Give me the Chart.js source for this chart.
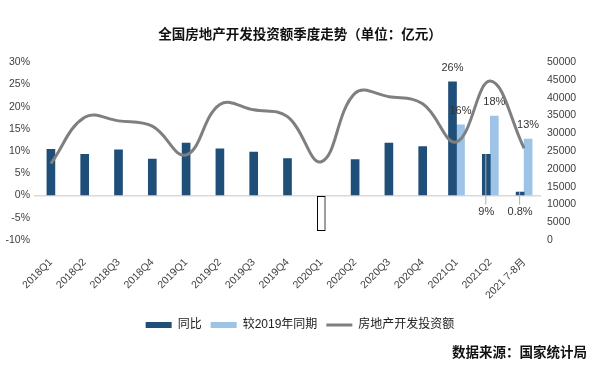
<!DOCTYPE html>
<html>
<head>
<meta charset="utf-8">
<script src="https://cdn.jsdelivr.net/npm/chart.js@4/dist/chart.umd.min.js"></script>
<style>
  html, body { margin: 0; padding: 0; background: #fff; }
  #wrap { width: 600px; height: 373px; }
</style>
</head>
<body>
<div id="wrap"><canvas id="chart"></canvas></div>
<script>
// 全国房地产开发投资额季度走势
const categories = ['2018Q1', '2018Q2', '2018Q3', '2018Q4', '2019Q1', '2019Q2', '2019Q3', '2019Q4',
    '2020Q1', '2020Q2', '2020Q3', '2020Q4', '2021Q1', '2021Q2', '2021 7-8月'];
const yoy = [10.4, 9.3, 10.3, 8.2, 11.8, 10.5, 9.8, 8.3, -7.9, 8.1, 11.8, 11.0, 25.6, 9.3, 0.8];
const vs2019 = [null, null, null, null, null, null, null, null, null, null, null, null, 15.9, 17.9, 12.7];
const invest = [21500, 34500, 33500, 32000, 23900, 38100, 36600, 34700, 22000, 41300, 40300, 38300, 27600, 44700, 25800];
const yoyLabels = [null, null, null, null, null, null, null, null, null, null, null, null, '26%', '9%', '0.8%'];
const vs2019Labels = [null, null, null, null, null, null, null, null, null, null, null, null, '16%', '18%', '13%'];
const pctTicks = [-10, -5, 0, 5, 10, 15, 20, 25, 30];

const FONT = '"Liberation Sans", "Noto Sans CJK SC", sans-serif';
const DARK = '#1f4e79';
const LIGHT = '#9dc3e6';

const barColors = yoy.map(v => v < 0 ? '#ffffff' : DARK);
const barBorders = yoy.map(v => v < 0 ? '#000000' : DARK);
const barBorderW = yoy.map(v => v < 0 ? 1 : 0);

// 柱子上方/下方的数值标签
const barLabels = {
    id: 'barLabels',
    afterDatasetsDraw(chart) {
        const ctx = chart.ctx;
        const zeroY = chart.scales.y.getPixelForValue(0);
        ctx.save();
        ctx.font = '11px ' + FONT;
        ctx.fillStyle = '#333';
        ctx.textAlign = 'center';
        ctx.textBaseline = 'middle';
        [yoyLabels, vs2019Labels].forEach((labels, di) => {
            const meta = chart.getDatasetMeta(di);
            labels.forEach((txt, i) => {
                if (!txt) return;
                const bar = meta.data[i];
                if (di === 0 && i > 12) {
                    ctx.strokeStyle = '#b0b0b0';
                    ctx.lineWidth = 1;
                    ctx.beginPath();
                    ctx.moveTo(bar.x - 0.5, bar.y);
                    ctx.lineTo(bar.x - 0.5, zeroY + 9);
                    ctx.stroke();
                    ctx.fillText(txt, bar.x, zeroY + 16);
                } else {
                    ctx.fillText(txt, bar.x, bar.y - 14);
                }
            });
        });
        ctx.restore();
    },
    afterDraw(chart) {
        const ctx = chart.ctx;
        ctx.save();
        ctx.font = 'bold 13.5px ' + FONT;
        ctx.fillStyle = '#111';
        ctx.textAlign = 'right';
        ctx.textBaseline = 'middle';
        ctx.fillText('数据来源：国家统计局', 587, 353);
        ctx.restore();
    }
};

new Chart(document.getElementById('chart'), {
    data: {
        labels: categories,
        datasets: [{
            type: 'bar',
            label: '同比',
            data: yoy,
            backgroundColor: barColors,
            borderColor: barBorders,
            borderWidth: barBorderW,
            borderSkipped: false,
            barThickness: 8,
            skipNull: true,
            pointStyle: 'rect',
            yAxisID: 'y',
            order: 1
        }, {
            type: 'bar',
            label: '较2019年同期',
            data: vs2019,
            backgroundColor: LIGHT,
            borderWidth: 0,
            barThickness: 8,
            skipNull: true,
            pointStyle: 'rect',
            yAxisID: 'y',
            order: 1
        }, {
            type: 'line',
            label: '房地产开发投资额',
            data: invest,
            borderColor: '#7f7f7f',
            backgroundColor: '#7f7f7f',
            borderWidth: 3,
            pointRadius: 0,
            pointStyle: 'line',
            tension: 0.4,
            yAxisID: 'y1',
            order: -1
        }]
    },
    options: {
        responsive: true,
        maintainAspectRatio: false,
        animation: false,
        layout: { padding: { left: 0, right: 0, top: 0, bottom: 32 } },
        plugins: {
            title: {
                display: true,
                text: '全国房地产开发投资额季度走势（单位：亿元）',
                color: '#111',
                font: { family: FONT, size: 13.5, weight: 'bold' },
                padding: { top: 27, bottom: 19 }
            },
            legend: {
                position: 'bottom',
                labels: {
                    usePointStyle: true,
                    pointStyleWidth: 26,
                    boxHeight: 6,
                    padding: 9,
                    color: '#222',
                    font: { family: FONT, size: 12 },
                    sort: (a, b) => a.datasetIndex - b.datasetIndex
                }
            },
            tooltip: { enabled: false }
        },
        scales: {
            x: {
                afterFit: s => { s.height = 70; },
                grid: { display: false },
                border: { display: false },
                ticks: {
                    color: '#404040',
                    font: { family: FONT, size: 10.5 },
                    minRotation: 45,
                    maxRotation: 45,
                    padding: 8
                }
            },
            y: {
                position: 'left',
                min: -10,
                max: 30,
                afterBuildTicks: s => { s.ticks = pctTicks.map(v => ({ value: v })); },
                afterFit: s => { s.width = 34; },
                border: { display: false },
                grid: {
                    drawTicks: false,
                    color: c => c.tick && c.tick.value === 0 ? '#d9d9d9' : 'rgba(0,0,0,0)',
                    lineWidth: 1.5
                },
                ticks: {
                    color: '#404040',
                    font: { family: FONT, size: 10.5 },
                    padding: 4,
                    callback: v => v + '%'
                }
            },
            y1: {
                position: 'right',
                min: 0,
                max: 50000,
                afterFit: s => { s.width = 59; },
                border: { display: false },
                grid: { display: false, drawTicks: false },
                ticks: {
                    stepSize: 5000,
                    color: '#404040',
                    font: { family: FONT, size: 10.5 },
                    padding: 6,
                    callback: v => String(v)
                }
            }
        }
    },
    plugins: [barLabels]
});
</script>
</body>
</html>
